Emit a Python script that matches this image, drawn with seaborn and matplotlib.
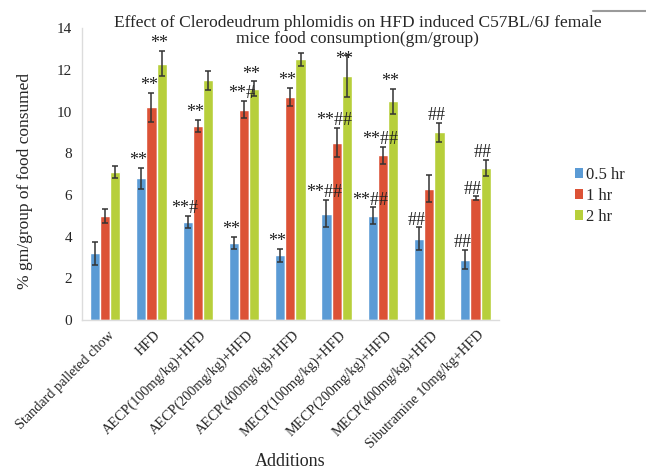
import numpy as np
import pandas as pd
import matplotlib
matplotlib.use("Agg")
import matplotlib.pyplot as plt
import matplotlib.transforms as mtransforms
from matplotlib.lines import Line2D
from matplotlib.patches import Patch
import seaborn as sns

categories = ["Standard palleted chow", "HFD", "AECP(100mg/kg)+HFD", "AECP(200mg/kg)+HFD",
              "AECP(400mg/kg)+HFD", "MECP(100mg/kg)+HFD", "MECP(200mg/kg)+HFD",
              "MECP(400mg/kg)+HFD", "Sibutramine 10mg/kg+HFD"]
series = ["0.5 hr", "1 hr", "2 hr"]
vals_05 = [3.2, 6.8, 4.7, 3.7, 3.1, 5.1, 5.0, 3.9, 2.9]
vals_1 = [5.0, 10.2, 9.3, 10.1, 10.7, 8.5, 7.9, 6.3, 5.85]
vals_2 = [7.1, 12.3, 11.5, 11.1, 12.5, 11.7, 10.5, 9.0, 7.3]
err_05 = [0.55, 0.5, 0.3, 0.3, 0.3, 0.65, 0.4, 0.55, 0.45]
err_1 = [0.35, 0.7, 0.3, 0.4, 0.45, 0.7, 0.4, 0.65, 0.08]
err_2 = [0.3, 0.6, 0.45, 0.35, 0.3, 1.0, 0.6, 0.45, 0.4]
ann_05 = ["", "**", "**#", "**", "**", "**##", "**##", "##", "##"]
ann_1 = ["", "**", "**", "**#", "**", "**##", "**##", "", "##"]
ann_2 = ["", "**", "", "**", "", "**", "**", "##", "##"]
colors = ["#5b9bd5", "#dc5236", "#b7cf3b"]

rows = []
for vals, s in zip([vals_05, vals_1, vals_2], series):
    for c, v in zip(categories, vals):
        rows.append({"Additions": c, "Series": s, "Value": v})
df = pd.DataFrame(rows)

sns.set_theme(style="white")
plt.rcParams['font.family'] = ['Liberation Serif', 'DejaVu Serif']

fig = plt.figure(figsize=(6.46, 4.70), dpi=100)
ax = fig.add_axes([0.127, 0.319, 0.645, 0.621])

sns.barplot(data=df, x="Additions", y="Value", hue="Series", order=categories,
            hue_order=series, palette=colors, errorbar=None, width=0.66,
            saturation=1, ax=ax, legend=False)

errs = [err_05, err_1, err_2]
anns = [ann_05, ann_1, ann_2]
# vertical nudges (points) for labels that sit lower in the original
nudge = {(2, 5): -8}
for si, (cont, e, an) in enumerate(zip(ax.containers, errs, anns)):
    xs = [b.get_x() + b.get_width() / 2 for b in cont]
    hs = [b.get_height() for b in cont]
    ax.errorbar(xs, hs, yerr=e, fmt="none", ecolor="#333333", elinewidth=1.1,
                capsize=2.5, capthick=1.1)
    for ci, (x, h, er, a) in enumerate(zip(xs, hs, e, an)):
        if a:
            dy = 2 + nudge.get((si, ci), 0)
            ax.annotate(a, (x, h + er), xytext=(-2, dy), textcoords="offset points",
                        ha="center", va="baseline", fontsize=13, color="#222222")

ax.set_xlim(-0.5, len(categories) - 0.5)
ax.set_ylim(0, 14)
ax.set_yticks(range(0, 15, 2))
ax.tick_params(axis="y", labelsize=11, length=0, pad=7)
ax.tick_params(axis="x", labelsize=10.3, length=0, pad=6)
offset = mtransforms.ScaledTranslation(1.5 / 72, 0, fig.dpi_scale_trans)
for lab in ax.get_xticklabels():
    lab.set_rotation(45)
    lab.set_ha("right")
    lab.set_rotation_mode("anchor")
    lab.set_transform(lab.get_transform() + offset)
for sp in ["top", "right"]:
    ax.spines[sp].set_visible(False)
for sp in ["left", "bottom"]:
    ax.spines[sp].set_color("#dcdcdc")
    ax.spines[sp].set_linewidth(1.0)

ax.set_xlabel("Additions", fontsize=13)
ax.xaxis.set_label_coords(0.5, -0.457)
ax.set_ylabel("% gm/group of food consumed", fontsize=12.5)
ax.yaxis.set_label_coords(-0.118, 0.476)

fig.text(0.554, 1 - 27 / 470, "Effect of Clerodeudrum phlomidis on HFD induced C57BL/6J female",
         ha="center", va="baseline", fontsize=12.5)
fig.text(0.553, 1 - 43 / 470, "mice food consumption(gm/group)",
         ha="center", va="baseline", fontsize=12.5)
fig.add_artist(Line2D([593 / 646, 1.0], [1 - 11 / 470] * 2, color="#9a9a9a", lw=1.5))

handles = [Patch(facecolor=c, edgecolor="none") for c in colors]
fig.legend(handles, series, loc="upper left", bbox_to_anchor=(0.890, 0.645),
           frameon=False, fontsize=12, handlelength=0.5, handleheight=0.5,
           handletextpad=0.15, labelspacing=0.3, borderaxespad=0, borderpad=0)

fig.savefig("out.png", dpi=100)
